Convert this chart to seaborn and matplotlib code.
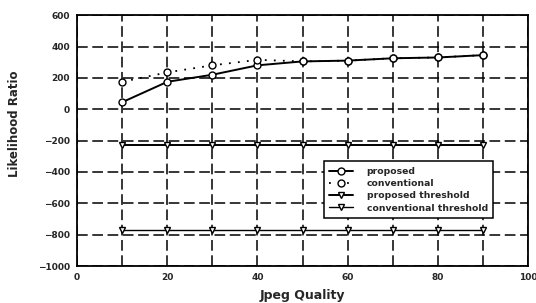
import numpy as np
import pandas as pd
import seaborn as sns
import matplotlib.pyplot as plt

# Values
quality = [10, 20, 30, 40, 50, 60, 70, 80, 90]
proposed = [45, 175, 220, 280, 305, 310, 325, 330, 345]
conventional = [175, 235, 280, 315, 305, 310, 325, 330, 345]
proposed_thr = [-225, -225, -225, -225, -225, -225, -225, -225, -225]
conventional_thr = [-770, -770, -770, -770, -770, -770, -770, -770, -770]

sns.set_style("white")
plt.rcParams['font.family'] = ['DejaVu Sans']
plt.rcParams['font.weight'] = 'bold'

fig, ax = plt.subplots(figsize=(5.36, 3.03), dpi=100)

mk = dict(markersize=5, markerfacecolor='white', markeredgecolor='black', markeredgewidth=1.0)
sns.lineplot(x=quality, y=proposed, ax=ax, color='black', lw=1.4, marker='o',
             label='proposed', **mk)
sns.lineplot(x=quality, y=conventional, ax=ax, color='black', lw=1.3, marker='o',
             linestyle=(0, (1, 4)), label='conventional', **mk)
sns.lineplot(x=quality, y=proposed_thr, ax=ax, color='black', lw=1.4, marker='v',
             label='proposed threshold', **mk)
sns.lineplot(x=quality, y=conventional_thr, ax=ax, color='black', lw=1.0, marker='v',
             label='conventional threshold', **mk)

ax.set_xlim(0, 100)
ax.set_ylim(-1000, 600)
ax.set_xticks(range(0, 101, 20))
ax.set_yticks(range(-1000, 601, 200))
ax.set_xticks(range(10, 100, 10), minor=True)
ax.grid(True, which='both', color='black', linestyle=(0, (7, 3)), lw=1.1)
ax.set_axisbelow(True)
ax.tick_params(labelsize=6.5, length=0, pad=5)
ax.set_xlabel('Jpeg Quality', fontsize=9, fontweight='bold')
ax.set_ylabel('Likelihood Ratio', fontsize=8.5, fontweight='bold')
ax.xaxis.set_label_coords(0.5, -0.09)
ax.yaxis.set_label_coords(-0.124, 0.566)
for s in ax.spines.values():
    s.set_color('black')
    s.set_linewidth(1.3)

leg = ax.legend(loc='lower left', bbox_to_anchor=(0.547, 0.191), fontsize=6.7,
                frameon=True, fancybox=False, framealpha=1, edgecolor='black',
                handlelength=2.5, handletextpad=1.5, borderpad=0.6, labelspacing=0.35,
                borderaxespad=0)
leg.get_frame().set_linewidth(1.1)

fig.subplots_adjust(left=0.144, right=0.985, top=0.95, bottom=0.122)
fig.savefig('out.png', dpi=100)
